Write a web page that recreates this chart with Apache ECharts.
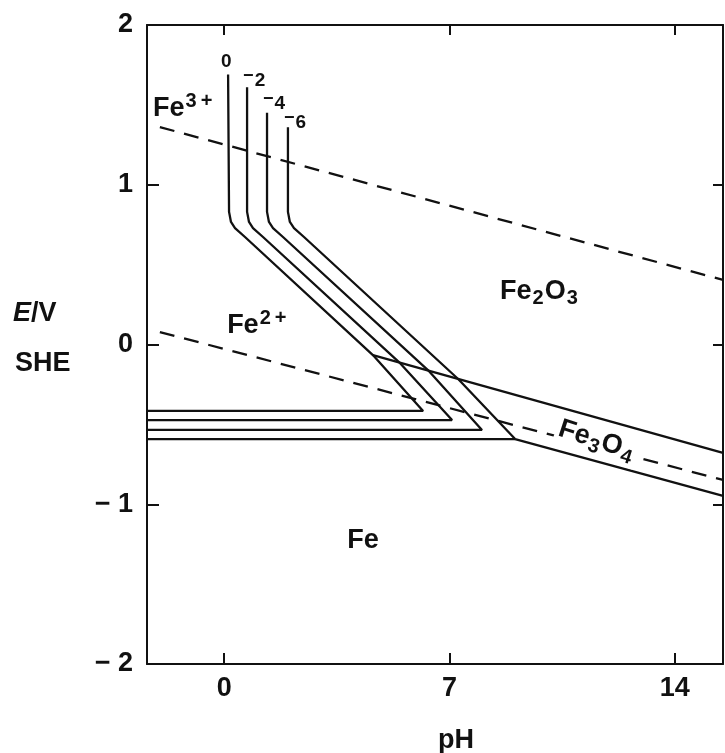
<!DOCTYPE html>
<html><head><meta charset="utf-8">
<script src="https://cdn.jsdelivr.net/npm/echarts@6/dist/echarts.min.js"></script>
<style>html,body{margin:0;padding:0;background:#fff}#c{width:725px;height:753px}</style>
</head><body><div id="c"></div>
<script>
// ---- data (pH, E / V vs SHE) ----
const xRange = [-2.4, 15.5];
const yRange = [-2, 2];
const xTicks = [0, 7, 14];
const yTicks = [-2, -1, 0, 1, 2];
const rightTicks = [-1, 0, 1];

// Boundaries for log[Fe] = 0, -2, -4, -6 : Fe3+/Fe2O3 vertical, Fe2+/Fe2O3, Fe2+/Fe3O4, Fe2+/Fe
const curve0  = [[0.12,1.69],[0.15,0.83],[0.21,0.767],[0.335,0.729],[0.645,0.673],[4.62,-0.066],[6.18,-0.416],[-2.4,-0.416]];
const curveM2 = [[0.71,1.61],[0.71,0.83],[0.77,0.767],[0.894,0.729],[1.205,0.673],[5.43,-0.110],[7.08,-0.473],[-2.4,-0.473]];
const curveM4 = [[1.33,1.45],[1.33,0.83],[1.39,0.767],[1.516,0.729],[1.826,0.673],[6.33,-0.160],[8.01,-0.535],[-2.4,-0.535]];
const curveM6 = [[1.98,1.36],[1.98,0.83],[2.04,0.767],[2.168,0.729],[2.479,0.673],[7.27,-0.216],[9.04,-0.592],[-2.4,-0.592]];
const curves = [curve0, curveM2, curveM4, curveM6];
const curveNames = ['0', '2', '4', '6'];
const curveLabelPos = [[0.06,1.77],[0.93,1.65],[1.55,1.505],[2.20,1.387]];

// Fe2O3/Fe3O4 and Fe3O4/Fe boundaries
const oxideUpper = [[4.62,-0.066],[15.5,-0.679]];
const oxideLower = [[9.04,-0.592],[15.5,-0.948]];

// water stability lines (dashed)
const waterO2 = [[-2.0,1.361],[15.5,0.404]];
const waterH2 = [[-2.0,0.078],[15.5,-0.848]];

// region labels
const regionLabels = [
  {parts:[['Fe','n'],['3\u2009+','sup']], at:[-2.21,1.48], align:'left', rot:0},
  {parts:[['Fe','n'],['2\u2009+','sup']], at:[0.09,0.116], align:'left', rot:0},
  {parts:[['Fe','n'],['2','sub'],['O','n'],['3','sub']], at:[8.57,0.33], align:'left', rot:0},
  {parts:[['Fe','n'],['3','sub'],['O','n'],['4','sub']], at:[11.58,-0.60], align:'center', rot:-18, bg:true},
  {parts:[['Fe','n']], at:[4.31,-1.23], align:'center', rot:0}
];

const FONT = '"Liberation Sans", Arial, Helvetica, sans-serif';
const chart = echarts.init(document.getElementById('c'));

const lineSeries = [];
curves.forEach((c, i) => lineSeries.push({
  type:'line', data:c, showSymbol:false, silent:true, z:3,
  lineStyle:{color:'#111', width:2.3}
}));
[oxideUpper, oxideLower].forEach(c => lineSeries.push({
  type:'line', data:c, showSymbol:false, silent:true, z:3,
  lineStyle:{color:'#111', width:2.3}
}));
[waterO2, waterH2].forEach(c => lineSeries.push({
  type:'line', data:c, showSymbol:false, silent:true, z:2,
  lineStyle:{color:'#111', width:2.3, type:[15,10]}
}));

const axisLine = {show:true, onZero:false, lineStyle:{color:'#111', width:2}};
chart.setOption({
  animation:false,
  backgroundColor:'#fff',
  grid:{left:147, right:2, top:25, bottom:89},
  xAxis:[
    {type:'value', min:xRange[0], max:xRange[1], position:'bottom',
     axisLine:axisLine, splitLine:{show:false},
     axisTick:{inside:true, length:11, customValues:xTicks, lineStyle:{color:'#111', width:2}},
     axisLabel:{customValues:xTicks, fontSize:27, fontWeight:'bold', fontFamily:FONT, color:'#111', margin:11}},
    {type:'value', min:xRange[0], max:xRange[1], position:'top',
     axisLine:axisLine, splitLine:{show:false},
     axisTick:{inside:true, length:10, customValues:xTicks, lineStyle:{color:'#111', width:2}},
     axisLabel:{show:false}}
  ],
  yAxis:[
    {type:'value', min:yRange[0], max:yRange[1], position:'left',
     axisLine:axisLine, splitLine:{show:false},
     axisTick:{inside:true, length:12, customValues:yTicks, lineStyle:{color:'#111', width:2}},
     axisLabel:{customValues:yTicks, fontSize:27, fontWeight:'bold', fontFamily:FONT, color:'#111', margin:14,
       formatter:v => v < 0 ? '\u2212 ' + Math.abs(v) : String(v)}},
    {type:'value', min:yRange[0], max:yRange[1], position:'right',
     axisLine:axisLine, splitLine:{show:false},
     axisTick:{inside:true, length:10, customValues:rightTicks, lineStyle:{color:'#111', width:2}},
     axisLabel:{show:false}}
  ],
  series:lineSeries
});

// ---- text labels placed from data coordinates ----
const richStyle = {
  n:{fontSize:27, fontWeight:'bold', fontFamily:FONT, fill:'#111'},
  sup:{fontSize:20, fontWeight:'bold', fontFamily:FONT, fill:'#111', padding:[0,0,14,1]},
  sub:{fontSize:20, fontWeight:'bold', fontFamily:FONT, fill:'#111', padding:[14,1,0,1]},
  m:{fontSize:18, fontWeight:'bold', fontFamily:FONT, fill:'#111', padding:[0,1,10,0]},
  d:{fontSize:19, fontWeight:'bold', fontFamily:FONT, fill:'#111'}
};
const graphics = [];
regionLabels.forEach(l => {
  const p = chart.convertToPixel({xAxisIndex:0, yAxisIndex:0}, l.at);
  const txt = l.parts.map(pt => '{' + pt[1] + '|' + pt[0] + '}').join('');
  graphics.push({
    type:'text', x:p[0], y:p[1], rotation:l.rot * Math.PI / 180, z:50,
    style:Object.assign({text:txt, rich:richStyle, align:l.align, verticalAlign:'middle',
      fill:'#111', font:'bold 27px ' + FONT},
      l.bg ? {backgroundColor:'#fff', padding:[0,3,0,3]} : {})
  });
});
curveLabelPos.forEach((pos, i) => {
  const p = chart.convertToPixel({xAxisIndex:0, yAxisIndex:0}, pos);
  const txt = i === 0 ? '{d|0}' : '{m|\u2212}{d|' + curveNames[i] + '}';
  graphics.push({type:'text', x:p[0], y:p[1], z:50,
    style:{text:txt, rich:richStyle, align:'center', verticalAlign:'middle', fill:'#111'}});
});
// axis titles
graphics.push({type:'text', x:13, y:314, z:50, style:{
  text:'{i|E}{r|/V}', align:'left', verticalAlign:'middle',
  rich:{i:{fontSize:27, fontWeight:'bold', fontStyle:'italic', fontFamily:FONT, fill:'#111'},
        r:{fontSize:27, fontWeight:'bold', fontFamily:FONT, fill:'#111'}}}});
graphics.push({type:'text', x:15, y:364, z:50, style:{
  text:'SHE', align:'left', verticalAlign:'middle', fill:'#111', font:'bold 27px ' + FONT}});
graphics.push({type:'text', x:456, y:741, z:50, style:{
  text:'pH', align:'center', verticalAlign:'middle', fill:'#111', font:'bold 27px ' + FONT}});
chart.setOption({graphic:graphics});
</script>
</body></html>
